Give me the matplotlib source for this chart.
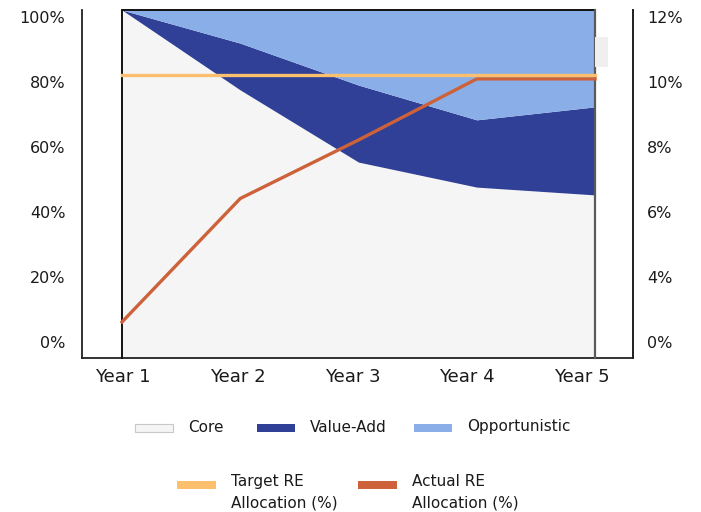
import numpy as np
import matplotlib
matplotlib.use("Agg")
import matplotlib.pyplot as plt
from matplotlib.patches import Rectangle
from matplotlib.transforms import ScaledTranslation

plt.rcParams['font.family'] = ['DejaVu Sans']

years = ["Year 1", "Year 2", "Year 3", "Year 4", "Year 5"]
core = [100.0, 75.4, 53.2, 45.5, 43.1]
value_add = [0.0, 14.4, 23.7, 20.7, 27.1]
opportunistic = [0.0, 10.2, 23.1, 33.8, 29.8]
target_re = [10.0, 10.0, 10.0, 10.0, 10.0]
actual_re = [2.4, 6.2, 8.0, 9.88, 9.88]

left_ticks = [0, 20, 40, 60, 80, 100]
left_tick_labels = ["0%", "20%", "40%", "60%", "80%", "100%"]
right_ticks = [2, 4, 6, 8, 10, 12]
right_tick_labels = ["0%", "4%", "6%", "8%", "10%", "12%"]

area_names = ["Core", "Value-Add", "Opportunistic"]
area_colors = ["#f5f5f5", "#2f4096", "#8aafe8"]
line_names = ["Target RE\nAllocation (%)", "Actual RE\nAllocation (%)"]
line_colors = ["#fbbf6e", "#cd623a"]

W, H = 701, 512
fig = plt.figure(figsize=(W / 100, H / 100), dpi=100)
fig.patch.set_facecolor("white")

def fx(px):
    return px / W

def fy(py):
    return 1 - py / H

ax = fig.add_axes([fx(82), fy(358), fx(633) - fx(82), fy(10) - fy(358)])
x = np.arange(len(years))
ymin = -7.08
ax.set_xlim(-40 / 118.25, 4 + 38 / 118.25)
ax.set_ylim(ymin, 100)

c = np.array(core)
v = c + np.array(value_add)
o = v + np.array(opportunistic)
ax.fill_between(x, ymin, c, color=area_colors[0], lw=0)
ax.fill_between(x, c, v, color=area_colors[1], lw=0)
ax.fill_between(x, v, o, color=area_colors[2], lw=0)

# frame around the plotted region
ax.plot([x[0], x[0], x[-1]], [ymin, 100, 100], color="#111111", lw=1.4, zorder=3,
        solid_joinstyle="miter", clip_on=False)
ax.plot([x[-1], x[-1]], [100, ymin], color="#5a5a5a", lw=1.6, zorder=3, clip_on=False)

ax.spines["top"].set_visible(False)
for s in ["left", "bottom", "right"]:
    ax.spines[s].set_color("#222222")
    ax.spines[s].set_linewidth(1.3)

ax.set_yticks(left_ticks)
ax.set_yticklabels(left_tick_labels)
ax.set_xticks(x * 0.97 + 0.01)
ax.set_xticklabels(years)
ax.tick_params(axis="both", length=0, colors="#1a1a1a")
ax.tick_params(axis="y", pad=12, labelsize=11.5)
ax.tick_params(axis="x", pad=7, labelsize=13)

ax2 = ax.twinx()
ax2.set_ylim(2 + 0.1 * ymin, 12)
ax2.plot(x, target_re, color=line_colors[0], lw=2.4, zorder=4)
ax2.plot(x, actual_re, color=line_colors[1], lw=2.4, zorder=3)
ax2.set_yticks(right_ticks)
ax2.set_yticklabels(right_tick_labels)
ax2.tick_params(axis="y", length=0, labelsize=11.5, colors="#1a1a1a", pad=10)
for s in ["top", "left", "bottom"]:
    ax2.spines[s].set_visible(False)
ax2.spines["right"].set_color("#222222")
ax2.spines["right"].set_linewidth(1.3)

off = ScaledTranslation(0, -7 / 100, fig.dpi_scale_trans)
for lab in ax.get_yticklabels() + ax2.get_yticklabels():
    lab.set_transform(lab.get_transform() + off)

# small light box at right of plot
fig.add_artist(Rectangle((fx(595), fy(67)), fx(608) - fx(595), fy(37) - fy(67),
                         transform=fig.transFigure, facecolor="#efefef", edgecolor="none"))

# legend row 1
row1_x = [135, 257, 414]
for name, col, px in zip(area_names, area_colors, row1_x):
    ec = "#c8c8c8" if name == "Core" else "none"
    fig.add_artist(Rectangle((fx(px), fy(432)), fx(38), 8 / H, transform=fig.transFigure,
                             facecolor=col, edgecolor=ec, lw=0.8))
    fig.text(fx(px + 53), fy(427), name, fontsize=11, va="center", ha="left", color="#1a1a1a")

# legend row 2
row2_x = [177, 358]
for name, col, px in zip(line_names, line_colors, row2_x):
    fig.add_artist(Rectangle((fx(px), fy(489)), fx(39), 8 / H, transform=fig.transFigure,
                             facecolor=col, edgecolor="none"))
    fig.text(fx(px + 54), fy(492), name, fontsize=11, va="center", ha="left", color="#1a1a1a",
             linespacing=1.5)

fig.savefig("out.png", dpi=100)
